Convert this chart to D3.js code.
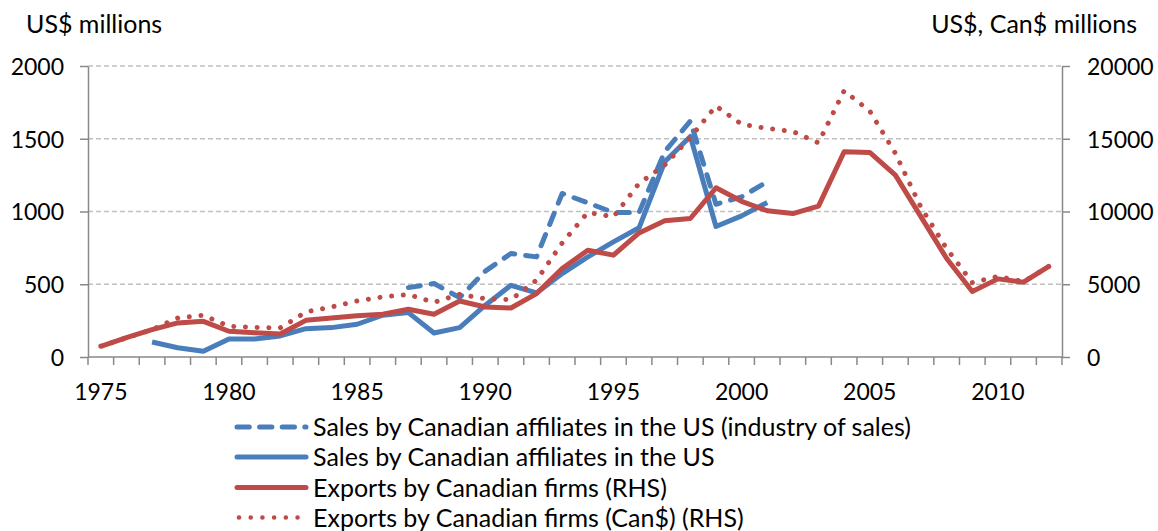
<!DOCTYPE html>
<html>
<head>
<meta charset="utf-8">
<script src="https://cdn.jsdelivr.net/npm/d3@7"></script>
<style>
  html, body { margin: 0; padding: 0; background: #fff; }
  svg { display: block; font-family: Lato, "Open Sans", sans-serif; }
</style>
</head>
<body>
<svg id="chart" width="1158" height="531"></svg>
<script>
// data
const years = d3.range(1975, 2013);
const yearLabels = [1975, 1980, 1985, 1990, 1995, 2000, 2005, 2010];
const leftTicks = [0, 500, 1000, 1500, 2000];
const rightTicks = [0, 5000, 10000, 15000, 20000];

// US$ millions (left axis), null where no data
const salesIndustry = [null, null, null, null, null, null, null, null, null, null, null, null,
  477, 505, 408, 590, 711, 688, 1124, 1060, 993, 993, 1411, 1622, 1050, 1101, 1204,
  null, null, null, null, null, null, null, null, null, null, null];
const sales = [null, null, 103, 64, 39, 124, 124, 145, 195, 202, 225, 287,
  305, 165, 202, 356, 493, 440, 573, 688, 791, 888, 1342, 1516, 897, 970, 1062,
  null, null, null, null, null, null, null, null, null, null, null];
// right axis
const exportsUS = [730, 1330, 1880, 2340, 2450, 1770, 1670, 1580, 2520, 2680, 2840, 2940,
  3280, 2940, 3850, 3440, 3370, 4360, 6080, 7340, 7000, 8530, 9360, 9520, 11630, 10700,
  10050, 9860, 10370, 14110, 14060, 12500, 9630, 6770, 4500, 5370, 5140, 6240];
const exportsCad = [740, 1320, 1880, 2680, 2870, 2110, 2040, 2000, 3100, 3440, 3850, 4130,
  4290, 3760, 4310, 4010, 3940, 5280, 7840, 9930, 9630, 11930, 13190, 15090, 17250, 16000,
  15710, 15500, 14720, 18300, 16900, 14000, 10280, 7450, 5110, 5540, 5180, 6240];

const seriesNames = [
  "Sales by Canadian affiliates in the US (industry of sales)",
  "Sales by Canadian affiliates in the US",
  "Exports by Canadian firms (RHS)",
  "Exports by Canadian firms (Can$) (RHS)"
];

const BLUE = "#4a7ebb", RED = "#be4b48", AXIS = "#898989", GRID = "#c0c0c0";
const FS = 25, TFS = 23;
const svg = d3.select("#chart");
const L = 88, R = 1062, T = 66, B = 357;

const x = d3.scaleBand().domain(years).range([L, R]);
const xc = (yr) => x(yr) + x.bandwidth() / 2;
const yL = d3.scaleLinear().domain([0, 2000]).range([B, T]);
const yR = d3.scaleLinear().domain([0, 20000]).range([B, T]);

// gridlines
svg.append("g").selectAll("line").data(leftTicks.slice(1)).join("line")
  .attr("x1", L).attr("x2", R).attr("y1", (d) => yL(d)).attr("y2", (d) => yL(d))
  .attr("stroke", GRID).attr("stroke-width", 1.3).attr("stroke-dasharray", "5,3");

// axes
const styleAxis = (g) => {
  g.select(".domain").attr("stroke", AXIS).attr("stroke-width", 1.5);
  g.selectAll(".tick line").attr("stroke", AXIS).attr("stroke-width", 1.5);
  g.selectAll("text").attr("fill", "#000").attr("font-size", TFS)
    .attr("font-family", "Lato, sans-serif").attr("dy", "0.36em");
};
svg.append("g").attr("transform", `translate(${L},0)`)
  .call(d3.axisLeft(yL).tickValues(leftTicks).tickFormat(d3.format("d"))
    .tickSize(8).tickSizeOuter(0).tickPadding(16))
  .call(styleAxis);
svg.append("g").attr("transform", `translate(${R},0)`)
  .call(d3.axisRight(yR).tickValues(rightTicks).tickFormat(d3.format("d"))
    .tickSize(8).tickSizeOuter(0).tickPadding(17))
  .call(styleAxis);

// x axis: ticks sit on the band edges, labels at band centres
const xg = svg.append("g").attr("transform", `translate(0,${B})`);
xg.append("line").attr("x1", L).attr("x2", R).attr("stroke", AXIS).attr("stroke-width", 1.5);
xg.selectAll("line.tk").data(years.concat([2013])).join("line").attr("class", "tk")
  .attr("x1", (d) => (d === 2013 ? R : x(d))).attr("x2", (d) => (d === 2013 ? R : x(d)))
  .attr("y1", 0).attr("y2", 8).attr("stroke", AXIS).attr("stroke-width", 1.5);
xg.selectAll("text").data(yearLabels).join("text")
  .attr("x", (d) => xc(d)).attr("y", 43).attr("text-anchor", "middle")
  .attr("font-size", TFS).text((d) => d);

// axis titles
svg.append("text").attr("x", 26).attr("y", 33).attr("font-size", FS).text("US$ millions");
svg.append("text").attr("x", 1137).attr("y", 33).attr("font-size", FS)
  .attr("text-anchor", "end").text("US$, Can$ millions");

// lines
const mk = (vals, ys) => d3.line()
  .defined((d, i) => vals[i] != null)
  .x((d) => xc(d)).y((d, i) => ys(vals[i]))(years);

const styles = [
  { vals: salesIndustry, ys: yL, color: BLUE, dash: "12,11", w: 5 },
  { vals: sales, ys: yL, color: BLUE, dash: null, w: 5 },
  { vals: exportsCad, ys: yR, color: RED, dash: "0.01,11.7", w: 5 },
  { vals: exportsUS, ys: yR, color: RED, dash: null, w: 5 }
];
styles.forEach((s) => {
  svg.append("path").attr("d", mk(s.vals, s.ys)).attr("fill", "none")
    .attr("stroke", s.color).attr("stroke-width", s.w)
    .attr("stroke-dasharray", s.dash)
    .attr("stroke-linecap", s.dash ? "round" : "butt").attr("stroke-linejoin", "round");
});

// legend
const legY = [427, 457, 487.5, 517.5];
const legDash = ["12.3,10.3", null, null, "0.01,11.7"];
const leg = svg.append("g");
seriesNames.forEach((name, i) => {
  const s = styles[i];
  leg.append("line").attr("x1", i === 3 ? 239 : 237).attr("x2", i === 3 ? 298 : 306)
    .attr("y1", legY[i]).attr("y2", legY[i])
    .attr("stroke", s.color).attr("stroke-width", i === 3 ? 4.6 : 5)
    .attr("stroke-dasharray", legDash[i]).attr("stroke-linecap", "round");
  leg.append("text").attr("x", 313).attr("y", legY[i]).attr("dy", "0.36em")
    .attr("font-size", FS).text(name);
});
</script>
</body>
</html>
